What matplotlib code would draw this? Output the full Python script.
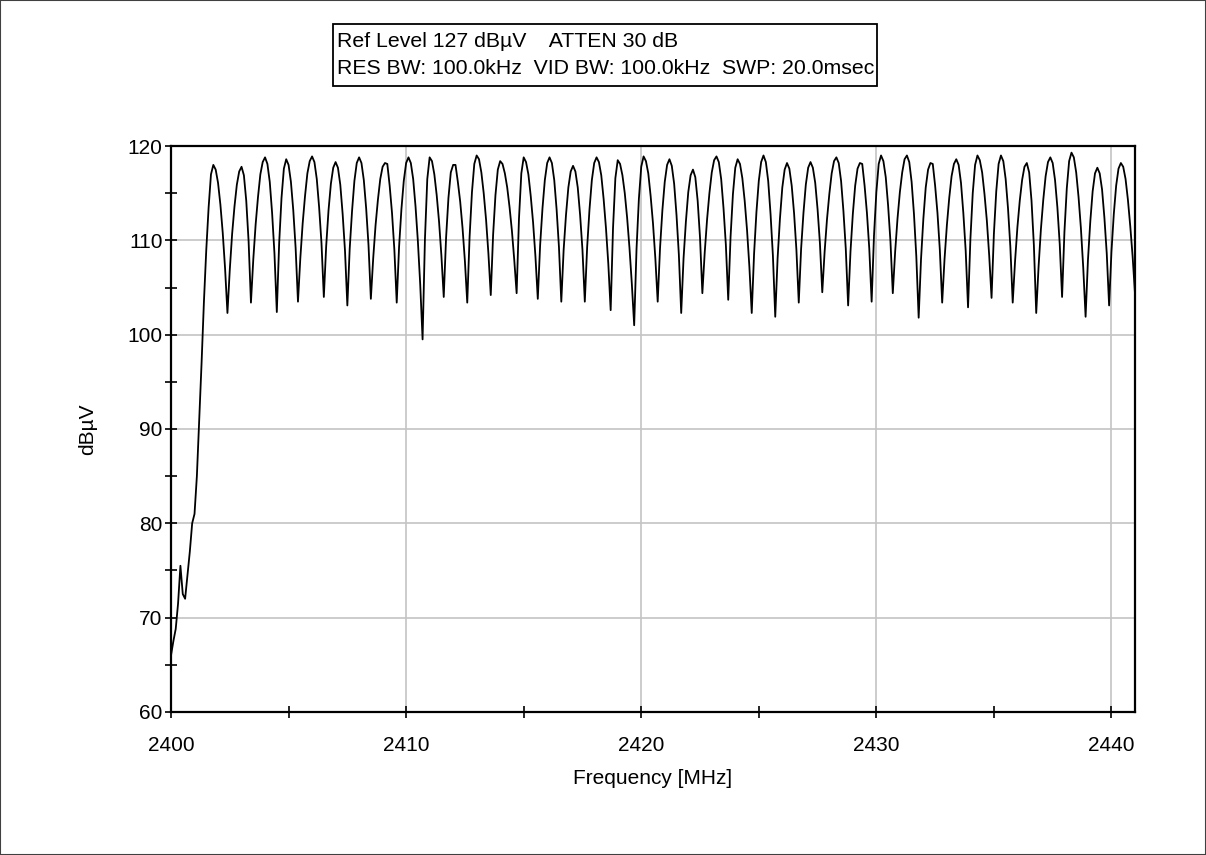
import numpy as np
import matplotlib
matplotlib.use("Agg")
import matplotlib.pyplot as plt
from matplotlib.patches import Rectangle
from matplotlib.ticker import MultipleLocator

plt.rcParams['font.family'] = ['Liberation Sans', 'DejaVu Sans']

# ---- data (sweep points every 0.1 MHz from 2400 MHz) ----
start_mhz = 2400.0
step_mhz = 0.1
level_dbuv = [
    66.0, 67.5, 68.8, 71.5, 75.5, 72.5, 72.0, 74.5, 77.0, 80.0, 81.0, 85.0, 91.0, 97.0, 103.5, 109.0, 113.5, 117.0, 118.0,
    117.5, 116.1, 113.8, 110.8, 107.0, 102.3,
    106.9, 110.7, 113.6, 115.9, 117.3, 117.8,
    116.9, 114.2, 109.9, 103.4,
    108.0, 111.7, 114.6, 117.0, 118.3, 118.8,
    118.1, 116.2, 112.9, 108.6, 102.4,
    109.7, 114.5, 117.6, 118.6,
    118.0, 116.2, 113.2, 109.2, 103.5,
    108.1, 111.8, 114.7, 117.1, 118.4, 118.9,
    118.3, 116.5, 113.5, 109.7, 104.0,
    109.4, 113.2, 116.0, 117.7, 118.3,
    117.7, 115.9, 112.8, 108.9, 103.1,
    109.1, 113.1, 116.3, 118.2, 118.8,
    118.2, 116.4, 113.4, 109.5, 103.8,
    108.1, 111.6, 114.3, 116.5, 117.8, 118.2,
    118.1, 115.8, 112.9, 109.0, 103.4,
    109.3, 113.3, 116.3, 118.2, 118.8,
    118.2, 116.5, 113.6, 109.9, 105.3, 99.5,
    110.1, 116.5, 118.8,
    118.4, 117.0, 114.8, 112.0, 108.4, 104.0,
    110.3, 114.5, 117.2, 118.0,
    118.0, 116.2, 114.1, 111.3, 107.8, 103.4,
    110.4, 115.1, 118.1, 119.0,
    118.6, 117.2, 115.0, 112.2, 108.6, 104.2,
    110.6, 114.8, 117.5, 118.4,
    118.1, 117.1, 115.6, 113.5, 111.0, 107.9, 104.4,
    112.3, 117.1, 118.8,
    118.3, 117.0, 114.7, 111.9, 108.3, 103.8,
    109.5, 113.4, 116.4, 118.2, 118.8,
    118.2, 116.4, 113.3, 109.3, 103.5,
    109.0, 112.7, 115.6, 117.3, 117.9,
    117.3, 115.6, 112.7, 109.0, 103.5,
    109.3, 113.3, 116.4, 118.2, 118.8,
    118.3, 116.9, 114.4, 111.3, 107.5, 102.6,
    111.3, 116.6, 118.5,
    118.1, 116.9, 115.0, 112.4, 109.2, 105.4, 101.0,
    109.1, 114.4, 117.8, 118.9,
    118.4, 117.1, 114.7, 111.8, 108.1, 103.5,
    109.2, 113.2, 116.2, 118.0, 118.6,
    117.9, 116.0, 112.7, 108.5, 102.3,
    108.1, 112.0, 115.1, 116.9, 117.5,
    116.7, 114.2, 110.3, 104.4,
    108.7, 112.2, 115.0, 117.2, 118.5, 118.9,
    118.3, 116.5, 113.4, 109.5, 103.7,
    110.4, 114.9, 117.7, 118.6,
    118.1, 116.6, 114.2, 111.1, 107.2, 102.3,
    108.6, 113.0, 116.3, 118.3, 119.0,
    118.3, 116.3, 112.8, 108.4, 101.9,
    108.1, 112.3, 115.6, 117.5, 118.2,
    117.6, 115.8, 112.9, 109.0, 103.4,
    109.1, 112.9, 115.9, 117.7, 118.3,
    117.7, 116.1, 113.3, 109.7, 104.5,
    108.8, 112.2, 114.9, 117.1, 118.4, 118.8,
    118.2, 116.3, 113.1, 109.1, 103.1,
    108.8, 112.8, 115.8, 117.6, 118.2,
    118.1, 115.8, 112.9, 109.1, 103.5,
    110.5, 115.1, 118.1, 119.0,
    118.4, 116.7, 113.7, 109.9, 104.4,
    108.8, 112.3, 115.1, 117.2, 118.6, 119.0,
    118.3, 116.2, 112.8, 108.3, 101.8,
    108.0, 112.3, 115.6, 117.5, 118.2,
    118.1, 115.8, 112.9, 109.0, 103.4,
    108.0, 111.6, 114.5, 116.8, 118.1, 118.6,
    118.0, 116.1, 112.9, 108.9, 102.9,
    110.1, 115.0, 118.0, 119.0,
    118.5, 117.2, 114.9, 112.1, 108.4, 103.9,
    110.7, 115.2, 118.1, 119.0,
    118.4, 116.5, 113.4, 109.3, 103.4,
    107.8, 111.4, 114.2, 116.4, 117.8, 118.2,
    117.2, 114.2, 109.5, 102.3,
    107.2, 111.2, 114.3, 116.8, 118.3, 118.8,
    118.2, 116.4, 113.5, 109.6, 104.0,
    110.9, 115.5, 118.4, 119.3,
    118.8, 117.2, 114.6, 111.3, 107.1, 101.9,
    107.9, 112.0, 115.2, 117.1, 117.7,
    117.1, 115.4, 112.4, 108.6, 103.1,
    108.8, 112.8, 115.8, 117.6, 118.2,
    117.8, 116.5, 114.3, 111.5, 108.3, 104.4,
]
freq_mhz = start_mhz + step_mhz * np.arange(len(level_dbuv))

x_ticks = [2400, 2410, 2420, 2430, 2440]
y_ticks = [60, 70, 80, 90, 100, 110, 120]
header_line1 = "Ref Level 127 dB\u00b5V    ATTEN 30 dB"
header_line2 = "RES BW: 100.0kHz  VID BW: 100.0kHz  SWP: 20.0msec"
x_label = "Frequency [MHz]"
y_label = "dB\u00b5V"

# ---- figure ----
fig = plt.figure(figsize=(12.06, 8.55), dpi=100)
fig.patch.set_facecolor('white')
ax = fig.add_axes([0.1418, 0.1673, 0.7993, 0.6619])

ax.plot(freq_mhz, level_dbuv, color='black', lw=1.3, zorder=3)

ax.set_xlim(2400, 2441)
ax.set_ylim(60, 120)
ax.set_xticks(x_ticks)
ax.set_yticks(y_ticks)
ax.xaxis.set_minor_locator(MultipleLocator(5))
ax.yaxis.set_minor_locator(MultipleLocator(5))
ax.tick_params(which='both', direction='inout', length=8, width=1.2, color='black',
               labelsize=15, colors='black')
ax.tick_params(axis='x', which='both', pad=13)
ax.tick_params(axis='y', which='both', pad=2)
ax.grid(True, which='major', color='#c4c4c4', lw=1.2, zorder=0)
for sp in ax.spines.values():
    sp.set_linewidth(1.6)
    sp.set_color('black')

ax.set_xlabel(x_label, fontsize=15)
ax.set_ylabel(y_label, fontsize=15)
ax.xaxis.set_label_coords(0.5, -0.101)
ax.yaxis.set_label_coords(-0.077, 0.5)

# header box
fig.add_artist(Rectangle((0.2761, 0.8995), 0.4511, 0.0725, transform=fig.transFigure,
                         fill=False, ec='black', lw=1.3))
fig.text(0.2795, 0.951, header_line1, fontsize=15.3, va='center', ha='left')
fig.text(0.2795, 0.920, header_line2, fontsize=15.3, va='center', ha='left')

# outer frame
fig.add_artist(Rectangle((0.0, 0.0), 1.0, 1.0, transform=fig.transFigure,
                         fill=False, ec='#404040', lw=1.5))

fig.savefig('out.png', dpi=100)
